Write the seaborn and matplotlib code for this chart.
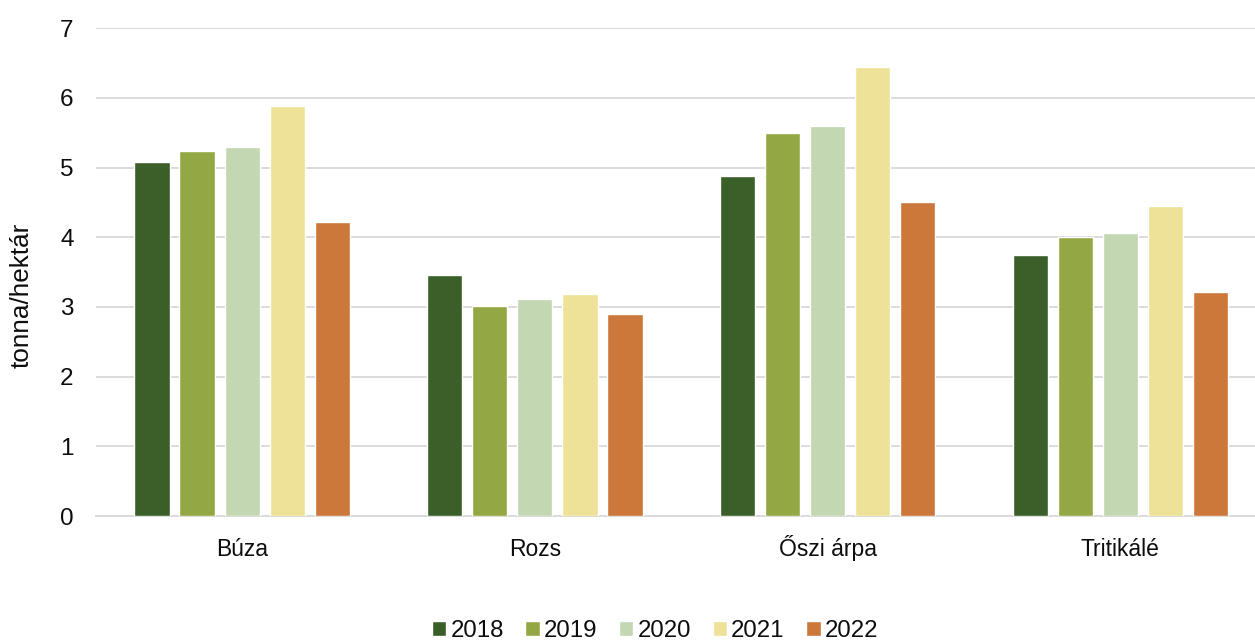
import pandas as pd
import seaborn as sns
import matplotlib.pyplot as plt

crops = ["Búza", "Rozs", "Őszi árpa", "Tritikálé"]
years = ["2018", "2019", "2020", "2021", "2022"]
y2018 = [5.08, 3.46, 4.88, 3.75]
y2019 = [5.24, 3.01, 5.49, 4.00]
y2020 = [5.29, 3.11, 5.59, 4.06]
y2021 = [5.89, 3.18, 6.44, 4.45]
y2022 = [4.22, 2.90, 4.50, 3.22]
colors = ["#3A5F29", "#93A844", "#C3D8B2", "#EDE297", "#CB783A"]


def build_frame():
    rows = []
    for year, vals in zip(years, [y2018, y2019, y2020, y2021, y2022]):
        for crop, v in zip(crops, vals):
            rows.append({"Növény": crop, "Év": year, "Érték": v})
    return pd.DataFrame(rows)


def main():
    df = build_frame()
    sns.set_style("white")
    plt.rcParams["font.family"] = ["Liberation Sans", "DejaVu Sans"]
    for key in ["text.color", "axes.labelcolor", "xtick.color", "ytick.color"]:
        plt.rcParams[key] = "#0D0D0D"

    fig, ax = plt.subplots(figsize=(12.55, 6.41), dpi=100)
    # plot area runs a little past the right edge, like the original
    fig.subplots_adjust(left=0.0763, right=1.0093, top=0.956, bottom=0.195)

    sns.barplot(data=df, x="Növény", y="Érték", hue="Év", order=crops,
                hue_order=years, palette=colors, width=0.77, gap=0.22,
                saturation=1, ax=ax, zorder=3)

    ax.set_ylim(0, 7)
    ax.set_yticks(range(0, 8))
    ax.yaxis.grid(True, color="#D9D9D9", linewidth=1.3, zorder=0)
    ax.set_xlabel("")
    ax.set_ylabel("tonna/hektár", fontsize=18.8)
    ax.yaxis.set_label_coords(-0.0527, 0.452)
    ax.tick_params(axis="y", labelsize=17.5, length=0, pad=16)
    ax.tick_params(axis="x", labelsize=16.5, length=0, pad=29)
    for lab in ax.get_xticklabels():
        lab.set_verticalalignment("baseline")
    for side in ["top", "right", "left"]:
        ax.spines[side].set_visible(False)
    ax.spines["bottom"].set_color("#D9D9D9")
    ax.spines["bottom"].set_linewidth(1.3)

    handles, labels = ax.get_legend_handles_labels()
    ax.get_legend().remove()
    fig.legend(handles, labels, loc="center", bbox_to_anchor=(0.522, 0.0156),
               ncol=5, frameon=False, fontsize=17.3, handlelength=0.6,
               handleheight=0.6, handletextpad=0.17, columnspacing=0.9)

    fig.savefig("out.png", dpi=100)


if __name__ == "__main__":
    main()
